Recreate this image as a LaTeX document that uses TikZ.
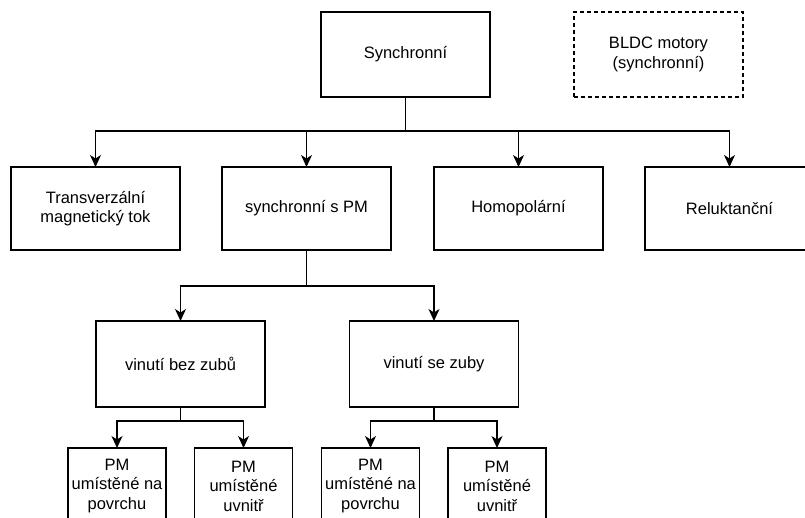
\documentclass[tikz,border=0pt]{standalone}
\usepackage{fontspec}
\setmainfont{Liberation Sans}
\usetikzlibrary{arrows.meta}
\begin{document}
\begin{tikzpicture}[x=1pt,y=-1pt,
  box/.style={draw, line width=1.5pt, minimum width=169pt, inner sep=0pt, outer sep=0pt,
    align=center, font=\fontsize{16.5}{19.5}\selectfont},
  smallbox/.style={box, minimum width=98pt},
  conn/.style={line width=1.5pt},
  arr/.style={conn, -{Stealth[length=12pt,width=11pt,inset=3.5pt]}}]
\useasboundingbox (0,0) rectangle (805,517);
\clip (0,0) rectangle (805,517);
% top row
\node[box, minimum height=85pt] (sync) at (405.5,54.5) {Synchronní};
\node[box, minimum height=85pt, dashed, dash pattern=on 4pt off 3pt] (bldc) at (658.5,54.5) {BLDC motory\\(synchronní)};
% second row
\node[box, minimum height=83pt] (trans) at (95.5,208.5) {Transverzální\\magnetický tok};
\node[box, minimum height=83pt] (spm) at (306.5,208.5) {synchronní s PM};
\node[box, minimum height=83pt] (homo) at (518.5,208.5) {Homopolární};
\node[box, minimum height=83pt] (relu) at (729.5,208.5) {Reluktanční};
% third row
\node[box, minimum height=86pt] (vbez) at (180.5,364) {vinutí bez zubů};
\node[box, minimum height=86pt] (vse) at (434,364) {vinutí se zuby};
% fourth row
\node[smallbox, minimum height=76pt, anchor=north] (p1) at (117,448) {PM\\umístěné na\\povrchu};
\node[smallbox, minimum height=76pt, anchor=north] (p2) at (243.5,448) {PM\\umístěné\\uvnitř};
\node[smallbox, minimum height=76pt, anchor=north] (p3) at (370.5,448) {PM\\umístěné na\\povrchu};
\node[smallbox, minimum height=76pt, anchor=north] (p4) at (497,448) {PM\\umístěné\\uvnitř};
% connectors
\coordinate (b1) at (405.5,131);
\draw[conn] (sync.south) -- (b1);
\draw[arr] (b1) -| (trans.north);
\draw[arr] (b1) -| (spm.north);
\draw[arr] (b1) -| (homo.north);
\draw[arr] (b1) -| (relu.north);
\coordinate (b2) at (306.5,286);
\draw[conn] (spm.south) -- (b2);
\draw[arr] (b2) -| (vbez.north);
\draw[arr] (b2) -| (vse.north);
\coordinate (b3) at (180.5,421);
\draw[conn] (vbez.south) -- (b3);
\draw[arr] (b3) -| (p1.north);
\draw[arr] (b3) -| (p2.north);
\coordinate (b4) at (434,421);
\draw[conn] (vse.south) -- (b4);
\draw[arr] (b4) -| (p3.north);
\draw[arr] (b4) -| (p4.north);
\end{tikzpicture}
\end{document}
